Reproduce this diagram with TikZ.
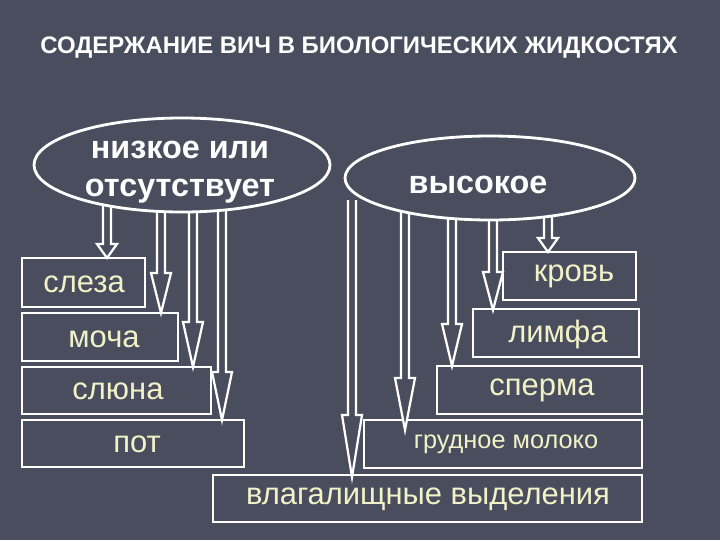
\documentclass[tikz,border=0pt]{standalone}
\usepackage{fontspec}
\setmainfont{Liberation Sans}
\definecolor{bg}{HTML}{4A4D5E}
\definecolor{txt}{HTML}{F2F2C8}
\newcommand\hollowarr[4]{%
\draw[white, fill=bg, line width=1.6pt, line join=miter] ({#1-4},#2) -- ({#1-4},{#3-#4}) -- ({#1-10},{#3-#4}) -- (#1,#3) -- ({#1+10},{#3-#4}) -- ({#1+4},{#3-#4}) -- ({#1+4},#2);}
\begin{document}
\begin{tikzpicture}[x=0.025cm,y=-0.025cm,
 box/.style={draw=white, line width=1.8pt, fill=bg},
 lab/.style={text=txt, font=\fontsize{22}{26}\selectfont},
 ell/.style={draw=white, line width=2pt, fill=bg}]
\fill[bg] (0,0) rectangle (720,540);
\useasboundingbox (0,0) rectangle (720,540);
\node[text=white, font=\bfseries\fontsize{17}{20}\selectfont] (title) at (359,48) {СОДЕРЖАНИЕ ВИЧ В БИОЛОГИЧЕСКИХ ЖИДКОСТЯХ};
% left boxes
\draw[box] (22,258) rectangle (145,307); \node[lab] (b1) at (84,284) {слеза};
\draw[box] (22,313) rectangle (178,361); \node[lab] (b2) at (104,339) {моча};
\draw[box] (22,367) rectangle (211,414); \node[lab] (b3) at (118,391) {слюна};
\draw[box] (22,420) rectangle (244,467); \node[lab] (b4) at (137,444) {пот};
% right boxes
\draw[box] (503,252) rectangle (636,300); \node[lab] (c1) at (574,276) {кровь};
\draw[box] (473,309) rectangle (639,357); \node[lab] (c2) at (558,334) {лимфа};
\draw[box] (437,366) rectangle (642,414); \node[lab] (c3) at (542,390) {сперма};
\draw[box] (364,420) rectangle (642,468); \node[lab, font=\fontsize{18}{21}\selectfont] (c4) at (506,444) {грудное молоко};
\draw[box] (213,475) rectangle (642,522); \node[lab] (c5) at (428,499) {влагалищные выделения};
% arrows
\hollowarr{107}{205}{258}{14}
\hollowarr{161}{205}{313}{40}
\hollowarr{193}{205}{367}{45}
\hollowarr{222}{205}{420}{48}
\hollowarr{352}{200}{477}{62}
\hollowarr{405}{200}{430}{52}
\hollowarr{452}{205}{366}{42}
\hollowarr{493}{205}{310}{38}
\hollowarr{548}{205}{252}{14}
% ellipses
\draw[ell] (182,165) ellipse [x radius=148, y radius=47];
\node[text=white, font=\bfseries\fontsize{23}{27}\selectfont, align=center] (low) at (180,172) {низкое или\\отсутствует};
\draw[ell] (490,178) ellipse [x radius=145, y radius=42];
\node[text=white, font=\bfseries\fontsize{23}{27}\selectfont] (high) at (478,185) {высокое};
\end{tikzpicture}
\end{document}
